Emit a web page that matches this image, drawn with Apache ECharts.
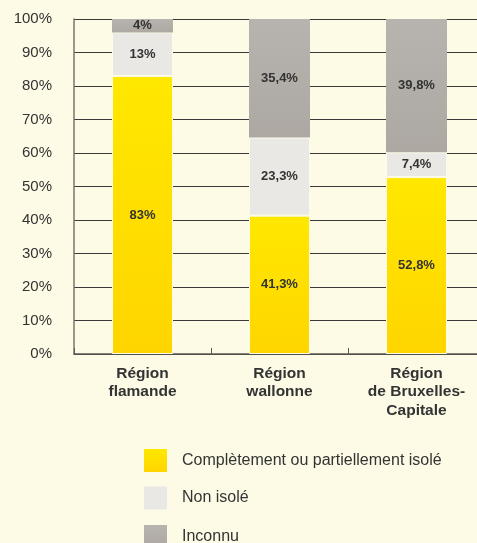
<!DOCTYPE html>
<html><head><meta charset="utf-8">
<script src="https://cdn.jsdelivr.net/npm/echarts@6/dist/echarts.min.js"></script>
<style>html,body{margin:0;padding:0;background:#FDFAE6;overflow:hidden}#c{width:485px;height:543px}</style>
</head><body><div id="c"></div>
<script>
const categories = ['Région\nflamande', 'Région\nwallonne', 'Région\nde Bruxelles-\nCapitale'];
const seriesNames = ['Complètement ou partiellement isolé', 'Non isolé', 'Inconnu'];
const isole = [83, 41.3, 52.8];
const nonIsole = [13, 23.3, 7.4];
const inconnu = [4, 35.4, 39.8];
const labelsIsole = ['83%', '41,3%', '52,8%'];
const labelsNon = ['13%', '23,3%', '7,4%'];
const labelsInc = ['4%', '35,4%', '39,8%'];
const yTicks = [0, 10, 20, 30, 40, 50, 60, 70, 80, 90, 100];

const FONT = 'Liberation Sans, Arial, sans-serif';
const grad = (a, b) => new echarts.graphic.LinearGradient(0, 0, 0, 1, [{offset: 0, color: a}, {offset: 1, color: b}]);
const lbl = arr => ({show: true, position: 'inside', color: '#333', fontWeight: 'bold', fontSize: 13, fontFamily: FONT, formatter: p => arr[p.dataIndex]});
const legendItem = (name, top) => ({
  orient: 'horizontal', left: 144, top: top, padding: 0,
  itemWidth: 23, itemHeight: 23, icon: 'rect',
  itemStyle: {borderWidth: 0},
  textStyle: {fontSize: 16, color: '#333', fontFamily: FONT, padding: [0, 0, 0, 10]},
  data: [name]
});

const chart = echarts.init(document.getElementById('c'));
chart.setOption({
  backgroundColor: '#FDFAE6',
  animation: false,
  textStyle: {fontFamily: FONT},
  grid: {left: 74, right: 0, top: 19, bottom: 189, containLabel: false},
  legend: [legendItem(seriesNames[0], 449), legendItem(seriesNames[1], 486.5), legendItem(seriesNames[2], 525)],
  xAxis: {
    type: 'category', data: categories,
    axisLine: {lineStyle: {color: '#5e5a53', width: 1.5}},
    axisTick: {show: true, inside: true, length: 6, lineStyle: {color: '#5e5a53'}},
    axisLabel: {color: '#333', fontWeight: 'bold', fontSize: 15.5, margin: 10, lineHeight: 18.5, interval: 0}
  },
  yAxis: {
    type: 'value', min: 0, max: 100, interval: 10,
    axisLine: {show: true, lineStyle: {color: '#7a756c', width: 1.5}},
    axisTick: {show: false},
    splitLine: {lineStyle: {color: '#3a3a3a', width: 1}},
    axisLabel: {color: '#333', fontSize: 15, margin: 22, formatter: v => yTicks.includes(v) ? v + '%' : ''}
  },
  series: [
    {name: seriesNames[0], type: 'bar', stack: 't', data: isole, barWidth: 61,
      itemStyle: {color: grad('#FFE800', '#FFD500'), borderColor: '#fffbe8', borderWidth: 1}, label: lbl(labelsIsole)},
    {name: seriesNames[1], type: 'bar', stack: 't', data: nonIsole, barWidth: 61,
      itemStyle: {color: '#EAE8E4', borderColor: '#fffbe8', borderWidth: 1}, label: lbl(labelsNon)},
    {name: seriesNames[2], type: 'bar', stack: 't', data: inconnu, barWidth: 61,
      itemStyle: {color: grad('#B7B3AE', '#ADA8A2'), borderColor: '#fffbe8', borderWidth: 0}, label: lbl(labelsInc)}
  ],
  color: ['#FFD800', '#EAE8E4', '#ADA8A3']
});
</script></body></html>
